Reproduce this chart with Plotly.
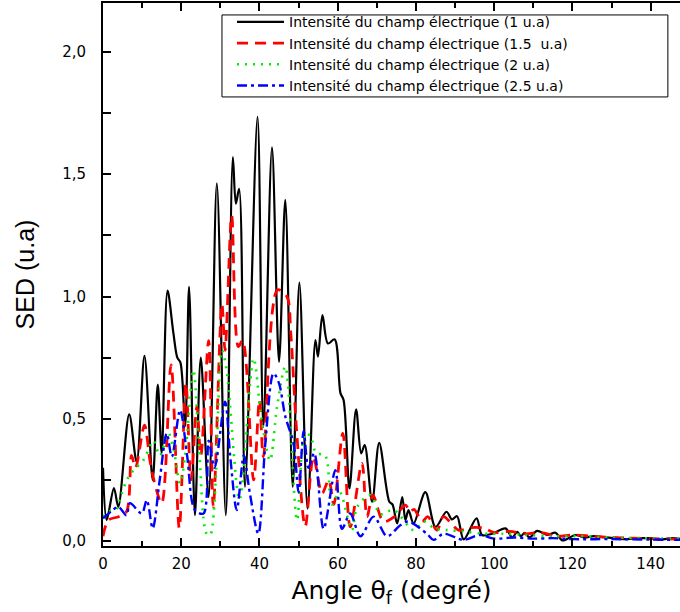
import plotly.graph_objects as go

# ---------------- data ----------------
angle_1 = [0, 0.95, 2.8, 3.9, 6.7, 8.6, 10.6, 12.7, 14.0, 15.0, 16.5, 18.0, 19.0, 19.8, 21.0, 22.0,
           23.5, 25.0, 27.0, 29.1, 31.4, 33.2, 33.96, 34.8, 36.3, 39.5, 41.0, 43.2, 45.0, 46.6,
           48.5, 50.2, 52.3, 54.3, 54.95, 56.1, 57.5, 59.2, 60.7, 61.5, 63.0, 64.7, 66.0, 66.9,
           68.8, 70.6, 73.2, 74.0, 75.2, 76.5, 77.3, 78.1, 79.4, 82.4, 85.0, 87.8, 89.2, 90.5,
           92.2, 95.5, 96.9, 99.5, 102.9, 104.6, 105.9, 106.8, 107.8, 109.0, 111.0, 113.5, 115.7,
           117.4, 120.8, 123.0, 125.5, 128.0, 130.5, 133.0, 137.0, 140.0, 142.5, 145.5, 148.0]
sed_1 = [0.30, 0.086, 0.217, 0.14, 0.518, 0.324, 0.757, 0.25, 0.64, 0.36, 1.024, 0.85, 0.75, 0.73,
         0.47, 1.04, 0.106, 0.75, 0.18, 1.463, 0.106, 1.57, 1.38, 1.44, 0.222, 1.735, 0.467, 1.61,
         0.733, 1.395, 0.222, 1.057, 0.133, 0.822, 0.754, 0.924, 0.808, 0.825, 0.605, 0.577, 0.215,
         0.539, 0.359, 0.393, 0.161, 0.402, 0.161, 0.15, 0.072, 0.18, 0.086, 0.127, 0.072, 0.20,
         0.058, 0.12, 0.089, 0.102, 0.007, 0.093, 0.025, 0.03, 0.052, 0.015, 0.038, 0.02, 0.034,
         0.015, 0.042, 0.025, 0.034, 0.003, 0.025, 0.015, 0.02, 0.016, 0.012, 0.008, 0.012, 0.012,
         0.006, 0.012, 0.008]

angle_15 = [0, 1.4, 4.0, 6.0, 7.3, 8.3, 10.6, 12.0, 13.0, 15.0, 17.4, 19.5, 21.2, 22.5, 24.0, 25.0,
            27.0, 28.2, 30.4, 31.2, 32.9, 34.6, 35.7, 38.5, 40.0, 41.0, 44.6, 47.0, 48.0, 49.5,
            51.7, 53.8, 56.0, 57.7, 59.0, 61.3, 63.2, 66.2, 67.5, 69.0, 71.7, 74.5, 77.3, 78.5,
            79.5, 81.6, 83.0, 85.4, 87.0, 90.9, 94.0, 97.3, 100, 104, 108, 112, 116, 120, 125,
            130, 135, 140, 148]
sed_15 = [0.02, 0.086, 0.10, 0.12, 0.35, 0.30, 0.474, 0.33, 0.25, 0.155, 0.72, 0.053, 0.646, 0.25,
          0.55, 0.35, 0.82, 0.14, 0.97, 0.78, 1.33, 0.795, 0.82, 0.25, 0.577, 0.345, 1.027, 1.0,
          0.85, 0.45, 0.06, 0.345, 0.195, 0.25, 0.15, 0.44, 0.058, 0.318, 0.1, 0.188, 0.08, 0.1,
          0.147, 0.12, 0.13, 0.08, 0.1, 0.045, 0.1, 0.045, 0.055, 0.053, 0.035, 0.04, 0.03, 0.035,
          0.02, 0.025, 0.02, 0.015, 0.012, 0.01, 0.008]

angle_2 = [0, 1.5, 3.4, 4.8, 6.1, 7.8, 10.3, 12.9, 14.5, 16.7, 18.0, 19.7, 21.0, 23.1, 24.5, 26.5,
           27.4, 30.4, 31.6, 34.9, 38.5, 40.5, 42.7, 44.5, 46.6, 49.6, 51.7, 53.0, 54.5, 56.8,
           58.5, 60.5, 63.6, 65.0, 68.3, 70.9, 74.3, 79.4, 82.0, 85.0, 88.0, 92, 97, 102, 108,
           115, 122, 130, 138, 148]
sed_2 = [0.10, 0.12, 0.13, 0.195, 0.25, 0.29, 0.33, 0.41, 0.35, 0.44, 0.38, 0.236, 0.35, 0.70,
         0.40, 0.03, 0.025, 0.78, 0.70, 0.17, 0.747, 0.5, 0.33, 0.55, 0.713, 0.086, 0.44, 0.43,
         0.36, 0.35, 0.15, 0.2, 0.045, 0.14, 0.188, 0.11, 0.127, 0.045, 0.08, 0.05, 0.045, 0.04,
         0.03, 0.03, 0.025, 0.02, 0.02, 0.015, 0.012, 0.01]

angle_25 = [0, 2, 3.9, 6.0, 6.9, 9.9, 11.2, 12.7, 14.5, 16.3, 17.6, 19.7, 21.5, 23.5, 25.7, 27.0,
            28.5, 31.2, 32.5, 34.2, 36.0, 37.5, 39.7, 41.5, 43.6, 45.0, 46.6, 48.7, 50.0, 51.3,
            52.5, 54.0, 56.4, 59.4, 61.1, 63.2, 65.8, 69.2, 72.6, 76.0, 78.0, 82.8, 84.5, 87.1,
            92.2, 96.3, 100, 105, 110, 115, 120, 130, 140, 148]
sed_25 = [0.093, 0.12, 0.14, 0.106, 0.155, 0.113, 0.168, 0.052, 0.25, 0.44, 0.345, 0.536, 0.35,
          0.127, 0.113, 0.41, 0.3, 0.57, 0.35, 0.127, 0.35, 0.2, 0.03, 0.4, 0.686, 0.645, 0.51,
          0.4, 0.2, 0.45, 0.3, 0.36, 0.05, 0.29, 0.05, 0.113, 0.02, 0.1, 0.02, 0.065, 0.08, 0.03,
          0.005, 0.03, 0.005, 0.025, 0.01, 0.015, 0.01, 0.012, 0.008, 0.008, 0.006, 0.005]

series_names = ["Intensité du champ électrique (1 u.a)",
                "Intensité du champ électrique (1.5\u00a0 u.a)",
                "Intensité du champ électrique (2 u.a)",
                "Intensité du champ électrique (2.5 u.a)"]

x_tickvals = [0, 20, 40, 60, 80, 100, 120, 140]
x_ticktext = ["0", "20", "40", "60", "80", "100", "120", "140"]
x_minor = [10, 30, 50, 70, 90, 110, 130]
y_tickvals = [0, 0.5, 1.0, 1.5, 2.0]
y_ticktext = ["0,0", "0,5", "1,0", "1,5", "2,0"]
y_minor = [0.25, 0.75, 1.25, 1.75]

# ---------------- figure ----------------
FONT = "DejaVu Sans"
fig = go.Figure()
fig.add_trace(go.Scatter(x=angle_1, y=sed_1, mode="lines", name=series_names[0],
                         line=dict(color="black", width=2.2, shape="spline", smoothing=0.9)))
fig.add_trace(go.Scatter(x=angle_15, y=sed_15, mode="lines", name=series_names[1],
                         line=dict(color="#ff0000", width=2.8, dash="11px,7px",
                                   shape="spline", smoothing=0.9)))
fig.add_trace(go.Scatter(x=angle_2, y=sed_2, mode="lines", name=series_names[2],
                         line=dict(color="#00ee00", width=2.6, dash="2px,6px",
                                   shape="spline", smoothing=0.9)))
fig.add_trace(go.Scatter(x=angle_25, y=sed_25, mode="lines", name=series_names[3],
                         line=dict(color="#0000ff", width=2.4, dash="10px,4px,3px,4px",
                                   shape="spline", smoothing=0.9)))

axis_common = dict(showgrid=False, zeroline=False, showline=True, linecolor="black",
                   linewidth=2, ticks="inside", ticklen=8, tickwidth=2, tickcolor="black",
                   tickfont=dict(family=FONT, size=15, color="black"))

fig.update_xaxes(range=[0, 147.5], tickmode="array", tickvals=x_tickvals, ticktext=x_ticktext,
                 minor=dict(tickmode="array", tickvals=x_minor, ticks="inside", ticklen=5,
                            tickwidth=2, tickcolor="black"),
                 mirror="ticks", ticklabelstandoff=3,
                 title=dict(text="Angle θ<sub>f</sub> (degré)", standoff=9,
                            font=dict(family=FONT, size=25, color="black")),
                 **axis_common)
fig.update_yaxes(range=[-0.02, 2.2], tickmode="array", tickvals=y_tickvals, ticktext=y_ticktext,
                 minor=dict(tickmode="array", tickvals=y_minor, ticks="inside", ticklen=8,
                            tickwidth=2, tickcolor="black"),
                 ticklabelstandoff=12,
                 title=dict(text="SED (u.a)", standoff=20,
                            font=dict(family="Liberation Sans", size=25, color="black")),
                 **axis_common)

# legend frame
fig.add_shape(type="rect", xref="paper", yref="paper", x0=0.2062, x1=0.979, y0=0.827, y1=0.978,
              line=dict(color="black", width=1), fillcolor="rgba(0,0,0,0)")

fig.update_layout(
    width=680, height=612,
    margin=dict(l=103, r=0, t=3, b=66),
    paper_bgcolor="white", plot_bgcolor="white",
    showlegend=True,
    legend=dict(x=0.2236, y=0.994, xanchor="left", yanchor="top",
                bgcolor="rgba(0,0,0,0)", borderwidth=0,
                font=dict(family=FONT, size=14, color="black"),
                itemwidth=47, tracegroupgap=0),
)

fig.write_html("out.html")
